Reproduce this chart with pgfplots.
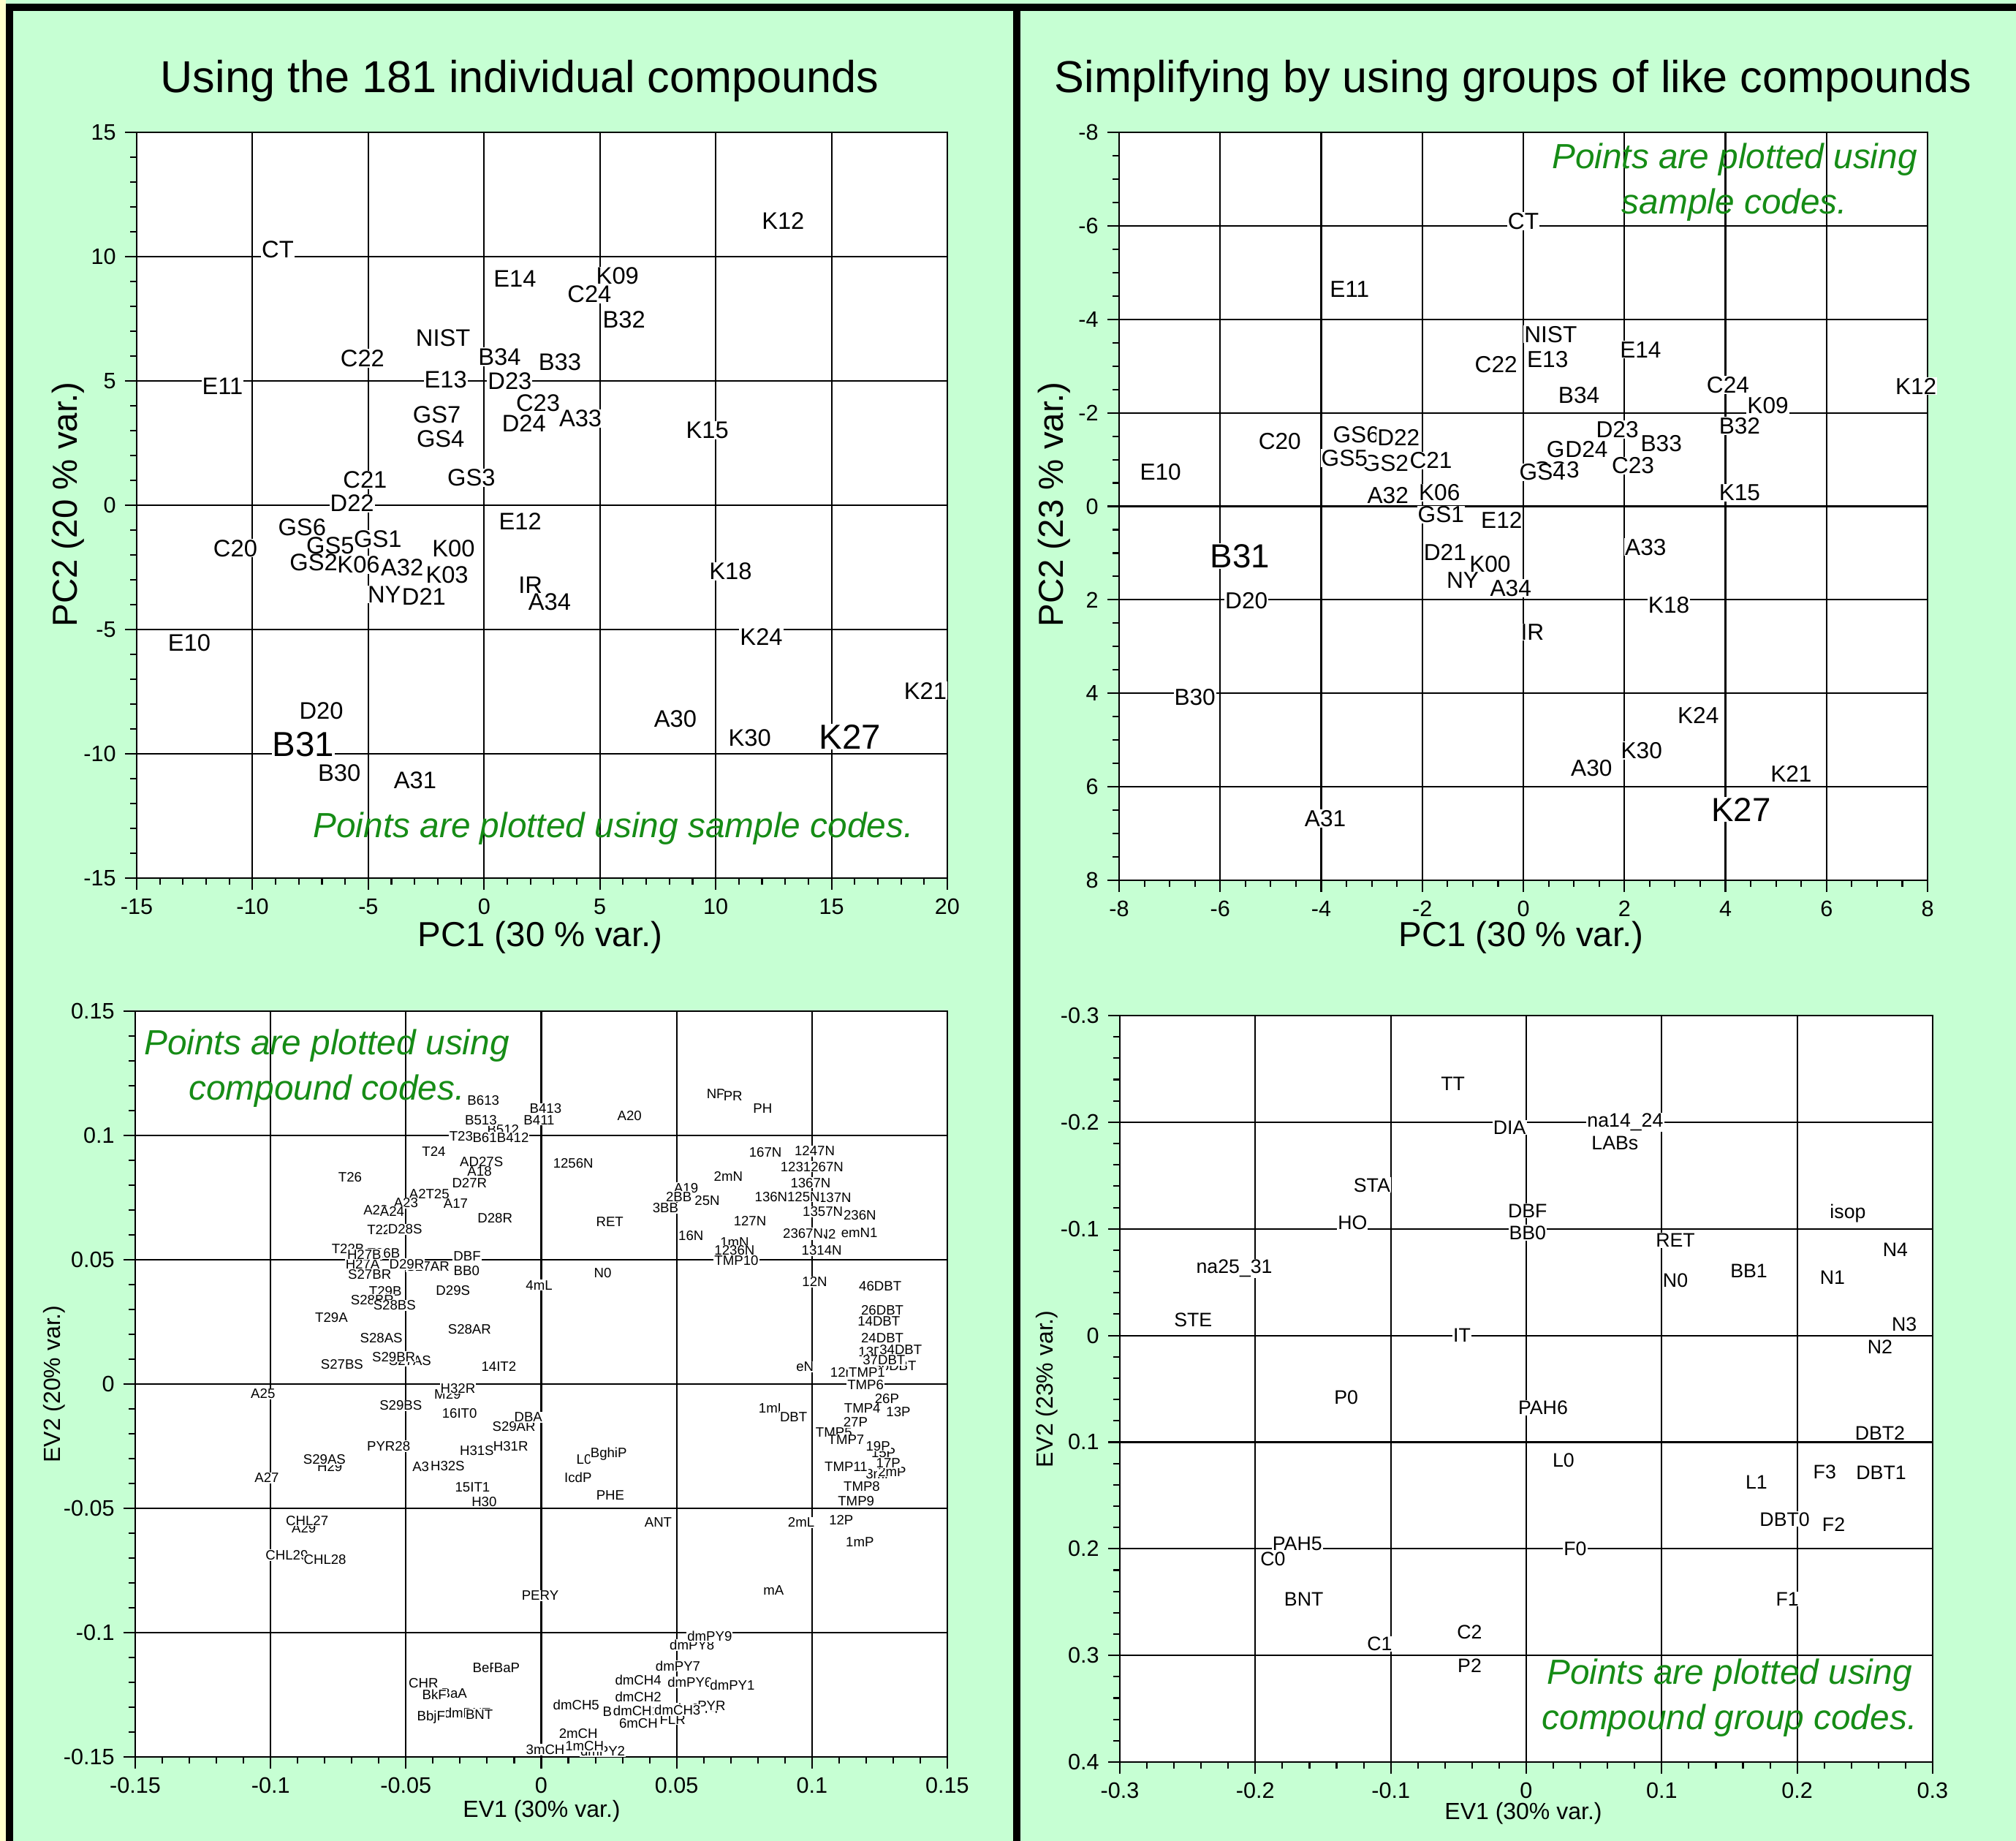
\documentclass[border=0pt]{standalone}
\usepackage{fontspec}
\setmainfont{Liberation Sans}
\usepackage{pgfplots}
\pgfplotsset{compat=1.18}
\definecolor{bgg}{RGB}{198,255,211}
\definecolor{ptgreen}{RGB}{22,140,22}
\definecolor{paley}{RGB}{255,255,204}
\pgfplotsset{
  panel/.style={
    scale only axis,
    axis background/.style={fill=white},
    tick align=outside,
    tick pos=left,
    major tick length=1.6mm,
    minor tick length=0.9mm,
    grid=major,
    major grid style={black, line width=0.6pt},
    axis line style={black, line width=0.8pt},
    every tick/.style={black, line width=0.6pt},
    tick label style={font=\fontsize{8.7}{10}\selectfont},
    /pgf/number format/assume math mode=true,
    scaled ticks=false,
    clip=false,
  },
  lab/.style={only marks, mark=none, point meta=explicit symbolic,
    nodes near coords, nodes near coords align=center,
    every node near coord/.append style={anchor=center, fill=white, text=black, inner sep=0.3pt, font=#1}},
  labx/.style={only marks, mark=none,
    nodes near coords, nodes near coords align=center,
    every node near coord/.append style={anchor=center, fill=white, text=black, inner sep=0.3pt, font=#1}},
}
\begin{document}
\begin{tikzpicture}
\useasboundingbox (0,0) rectangle (275.8mm,-251.8mm);
\fill[bgg] (0,0) rectangle (275.8mm,-251.8mm);
\fill[paley] (0,0) rectangle (0.8mm,-251.8mm);
\fill[black] (0.8mm,-0.5mm) rectangle (275.8mm,-1.5mm);
\fill[black] (0.8mm,-0.5mm) rectangle (1.8mm,-251.8mm);
\fill[black] (138.6mm,-0.5mm) rectangle (139.6mm,-251.8mm);

% ---------------- Top left
\begin{axis}[panel, at={(18.7mm,-120.1mm)}, anchor=south west,
  width=110.9mm, height=102mm,
  xmin=-15, xmax=20, ymin=-15, ymax=15,
  xtick={-15,-10,-5,0,5,10,15,20}, ytick={-15,-10,-5,0,5,10,15},
  minor tick num=4]
\addplot[lab={\fontsize{9.3}{10}\selectfont}] table[meta=label]{
x y label
-8.91 10.30 CT
12.91 11.44 K12
1.33 9.11 E14
4.55 8.50 C24
5.76 9.22 K09
6.04 7.46 B32
-1.77 6.74 NIST
-5.25 5.91 C22
0.67 5.97 B34
3.27 5.76 B33
-11.29 4.78 E11
-1.66 5.04 E13
1.11 4.98 D23
2.33 4.11 C23
-2.04 3.64 GS7
4.16 3.49 A33
1.72 3.28 D24
-1.88 2.66 GS4
9.64 3.02 K15
-0.55 1.11 GS3
-5.14 1.01 C21
-5.70 0.08 D22
1.56 -0.64 E12
-7.86 -0.90 GS6
-6.64 -1.62 GS5
-4.59 -1.37 GS1
-1.32 -1.73 K00
-10.74 -1.73 C20
-7.36 -2.30 GS2
-5.42 -2.40 K06
-3.54 -2.50 A32
-1.60 -2.81 K03
10.64 -2.66 K18
2.00 -3.22 IR
2.83 -3.90 A34
-4.31 -3.59 NY
-2.60 -3.69 D21
-12.73 -5.55 E10
11.97 -5.29 K24
19.05 -7.46 K21
-7.03 -8.28 D20
8.26 -8.59 A30
11.47 -9.37 K30
-6.25 -10.76 B30
-2.98 -11.07 A31
};
\addplot[lab={\fontsize{13.5}{15}\selectfont}] table[meta=label]{
x y label
-7.80 -9.63 B31
15.79 -9.32 K27
};
\end{axis}

% ---------------- Top right
\begin{axis}[panel, at={(153.1mm,-120.4mm)}, anchor=south west,
  width=110.6mm, height=102.3mm,
  xmin=-8, xmax=8, ymin=-8, ymax=8, y dir=reverse,
  xtick={-8,-6,-4,-2,0,2,4,6,8}, ytick={-8,-6,-4,-2,0,2,4,6,8},
  minor tick num=3]
\addplot[lab={\fontsize{9}{10}\selectfont}] table[meta=label]{
x y label
0.00 -6.10 CT
-3.44 -4.64 E11
0.54 -3.68 NIST
0.48 -3.15 E13
-0.54 -3.04 C22
2.32 -3.35 E14
4.05 -2.60 C24
7.77 -2.57 K12
4.84 -2.16 K09
1.10 -2.38 B34
4.28 -1.72 B32
1.86 -1.64 D23
2.73 -1.34 B33
-3.31 -1.53 GS6
-2.47 -1.47 D22
-4.82 -1.39 C20
0.92 -1.22 GS7
1.25 -1.22 D24
-2.73 -0.92 GS2
-3.54 -1.03 GS5
-1.83 -0.98 C21
0.65 -0.78 GS3
0.38 -0.73 GS4
2.17 -0.87 C23
-7.18 -0.73 E10
4.28 -0.29 K15
-2.68 -0.23 A32
-1.66 -0.29 K06
-1.63 0.18 GS1
-0.43 0.29 E12
2.42 0.87 A33
-1.55 0.98 D21
-0.66 1.23 K00
-1.20 1.58 NY
-0.25 1.75 A34
2.88 2.11 K18
-5.48 2.02 D20
0.18 2.69 IR
-6.50 4.09 B30
3.46 4.48 K24
2.34 5.22 K30
1.35 5.60 A30
5.30 5.72 K21
-3.92 6.68 A31
};
\addplot[lab={\fontsize{13}{15}\selectfont}] table[meta=label]{
x y label
-5.61 1.06 B31
4.31 6.49 K27
};
\end{axis}

% ---------------- Bottom left
\begin{axis}[panel, at={(18.5mm,-240.3mm)}, anchor=south west,
  width=111.1mm, height=102mm,
  xmin=-0.15, xmax=0.15, ymin=-0.15, ymax=0.15,
  xtick={-0.15,-0.1,-0.05,0,0.05,0.1,0.15}, ytick={-0.15,-0.1,-0.05,0,0.05,0.1,0.15},
  xticklabel style={/pgf/number format/fixed, /pgf/number format/precision=2},
  yticklabel style={/pgf/number format/fixed, /pgf/number format/precision=2},
  minor tick num=4]
\addplot[lab={\fontsize{5.3}{6}\selectfont}] table[meta=label]{
x y label
-0.0141 0.1023 B512
-0.0195 0.0991 B612
-0.0256 0.0895 A16
0.0535 0.0789 A19
-0.0443 0.0764 A21
-0.0612 0.0701 A22
-0.0600 0.0622 T22
-0.0714 0.0543 T22B
-0.0582 0.0526 T26B
-0.0660 0.0482 H27A
-0.0419 0.0472 S27AR
-0.0576 0.0374 T29B
-0.0624 0.0339 S28BR
-0.0485 0.0093 S27AS
-0.0346 -0.0041 M29
-0.0781 -0.0333 H29
-0.0431 -0.0333 A31
-0.0877 -0.0580 A29
0.0714 0.0571 1mN
0.1260 0.0296 26DBT
0.1021 0.0603 emN2
0.1250 0.0128 13DBT
0.1328 0.0138 34DBT
0.1307 0.0074 36DBT
0.1135 0.0046 12mN
0.1081 -0.0195 TMP5
0.1264 -0.0278 15P
0.1250 -0.0361 3mP
0.1296 -0.0352 2mP
0.0852 -0.0098 1mL
0.0557 -0.1049 dmPY8
-0.0322 -0.1246 BaA
-0.0273 -0.1324 dmBNT
0.0273 -0.1317 BbF
0.0572 -0.1305 dmPY4
0.0629 -0.1293 PYR
0.0485 -0.1349 FLR
0.0227 -0.1476 dmPY2
0.0958 0.0874 1237N
-0.0214 0.1141 B613
0.0016 0.1108 B413
-0.0223 0.1062 B513
-0.0008 0.1062 B411
0.0326 0.1079 A20
-0.0296 0.0997 T23
-0.0105 0.0991 B412
0.0646 0.1166 NP
0.0708 0.1158 PR
0.0818 0.1110 PH
-0.0397 0.0936 T24
-0.0204 0.0895 D27S
-0.0228 0.0855 A18
-0.0706 0.0833 T26
0.0118 0.0888 1256N
-0.0265 0.0809 D27R
0.0508 0.0754 2BB
0.0613 0.0739 25N
0.0459 0.0708 3BB
-0.0383 0.0764 T25
-0.0500 0.0728 A23
-0.0316 0.0725 A17
-0.0551 0.0693 A24
-0.0171 0.0668 D28R
0.0253 0.0654 RET
-0.0503 0.0622 D28S
0.0553 0.0598 16N
-0.0654 0.0521 H27B
-0.0497 0.0482 D29R
-0.0274 0.0513 DBF
-0.0276 0.0457 BB0
-0.0634 0.0442 S27BR
-0.0542 0.0317 S28BS
-0.0326 0.0377 D29S
-0.0008 0.0398 4mL
0.0227 0.0447 N0
-0.0775 0.0267 T29A
-0.0265 0.0221 S28AR
-0.0591 0.0184 S28AS
-0.0545 0.0110 S29BR
-0.0736 0.0079 S27BS
-0.0157 0.0071 14IT2
-0.1028 -0.0039 A25
-0.0308 -0.0017 H32R
-0.0519 -0.0087 S29BS
-0.0302 -0.0118 16IT0
-0.0101 -0.0172 S29AR
-0.0048 -0.0133 DBA
-0.0564 -0.0250 PYR28
-0.0238 -0.0267 H31S
-0.0113 -0.0250 H31R
-0.0801 -0.0304 S29AS
-0.0346 -0.0330 H32S
-0.1014 -0.0377 A27
0.0158 -0.0304 L0
0.0249 -0.0282 BghiP
0.0136 -0.0377 IcdP
-0.0254 -0.0415 15IT1
-0.0211 -0.0475 H30
0.0255 -0.0448 PHE
0.0432 -0.0556 ANT
-0.0865 -0.0549 CHL27
-0.0940 -0.0688 CHL29
-0.0799 -0.0706 CHL28
0.0828 0.0931 167N
0.1010 0.0938 1247N
0.1042 0.0874 1267N
0.0691 0.0834 2mN
0.0995 0.0810 1367N
0.0849 0.0754 136N
0.1085 0.0749 137N
0.0969 0.0754 125N
0.1040 0.0693 1357N
0.1177 0.0680 236N
0.0771 0.0655 127N
0.0967 0.0606 2367N
0.1175 0.0608 emN1
0.0714 0.0537 1236N
0.0721 0.0498 TMP10
0.1036 0.0537 1314N
0.1010 0.0411 12N
0.1252 0.0394 46DBT
0.1247 0.0253 14DBT
0.1260 0.0184 24DBT
0.1266 0.0096 37DBT
0.0974 0.0069 eN
0.1203 0.0046 TMP1
0.1198 -0.0003 TMP6
0.1277 -0.0059 26P
0.1186 -0.0098 TMP4
0.1319 -0.0112 13P
0.0932 -0.0132 DBT
0.1161 -0.0154 27P
0.1126 -0.0225 TMP7
0.1244 -0.0249 19P
0.1282 -0.0317 17P
0.1126 -0.0332 TMP11
0.1184 -0.0413 TMP8
0.1163 -0.0472 TMP9
0.0960 -0.0557 2mL
0.1108 -0.0547 12P
0.1177 -0.0635 1mP
0.0858 -0.0831 mA
-0.0004 -0.0851 PERY
0.0622 -0.1014 dmPY9
0.0505 -0.1134 dmPY7
-0.0206 -0.1142 BeP
-0.0127 -0.1142 BaP
-0.0435 -0.1202 CHR
0.0358 -0.1190 dmCH4
0.0549 -0.1199 dmPY6
0.0706 -0.1212 dmPY1
-0.0395 -0.1248 BkF
0.0358 -0.1258 dmCH2
0.0129 -0.1290 dmCH5
-0.0407 -0.1339 BbjF
-0.0229 -0.1329 BNT
0.0351 -0.1314 dmCH1
0.0503 -0.1312 dmCH3
0.0359 -0.1365 6mCH
0.0137 -0.1407 2mCH
0.0015 -0.1471 3mCH
0.0160 -0.1456 1mCH
};
\end{axis}

% ---------------- Bottom right
\begin{axis}[panel, at={(153.2mm,-241.0mm)}, anchor=south west,
  width=111.2mm, height=102.1mm,
  xmin=-0.3, xmax=0.3, ymin=-0.3, ymax=0.4, y dir=reverse,
  xtick={-0.3,-0.2,-0.1,0,0.1,0.2,0.3}, ytick={-0.3,-0.2,-0.1,0,0.1,0.2,0.3,0.4},
  xticklabel style={/pgf/number format/fixed, /pgf/number format/precision=1},
  yticklabel style={/pgf/number format/fixed, /pgf/number format/precision=1},
  minor tick num=4]
\addplot[lab={\fontsize{7.6}{9}\selectfont}] table[meta=label]{
x y label
-0.0541 -0.2361 TT
-0.0123 -0.1952 DIA
0.0655 -0.1807 LABs
-0.1139 -0.1410 STA
0.0010 -0.1169 DBF
-0.1282 -0.1060 HO
0.2374 -0.1145 isop
0.0010 -0.0964 BB0
0.1101 -0.0892 RET
0.2725 -0.0807 N4
0.1101 -0.0518 N0
0.1643 -0.0602 BB1
0.2260 -0.0542 N1
-0.2459 -0.0145 STE
0.2791 -0.0108 N3
-0.0475 0.0000 IT
0.2611 0.0108 N2
-0.1329 0.0578 P0
0.0124 0.0675 PAH6
0.2611 0.0916 DBT2
0.0275 0.1169 L0
0.2203 0.1277 F3
0.2620 0.1289 DBT1
0.1699 0.1373 L1
0.1908 0.1723 DBT0
0.2269 0.1771 F2
-0.1870 0.2096 C0
-0.1690 0.1952 PAH5
0.0361 0.2000 F0
-0.1642 0.2470 BNT
0.1927 0.2470 F1
-0.0418 0.2783 C2
-0.1082 0.2892 C1
-0.0418 0.3096 P2
};
\addplot[labx={\fontsize{7.6}{9}\selectfont}, nodes near coords={na14\_24}] coordinates {(0.0731,-0.2000)};
\addplot[labx={\fontsize{7.6}{9}\selectfont}, nodes near coords={na25\_31}] coordinates {(-0.2155,-0.0627)};
\end{axis}

% ---------------- Texts
\node[font=\fontsize{17.4}{20}\selectfont] at (71.1mm,-11.1mm) {Using the 181 individual compounds};
\node[font=\fontsize{17.4}{20}\selectfont] at (207.0mm,-11.1mm) {Simplifying by using groups of like compounds};

\node[font=\fontsize{13.5}{15}\selectfont, rotate=90] at (9.3mm,-69.0mm) {PC2 (20 \% var.)};
\node[font=\fontsize{13.5}{15}\selectfont] at (73.9mm,-128.2mm) {PC1 (30 \% var.)};
\node[font=\fontsize{13.5}{15}\selectfont, rotate=90] at (144.2mm,-69.0mm) {PC2 (23 \% var.)};
\node[font=\fontsize{13.5}{15}\selectfont] at (208.1mm,-128.2mm) {PC1 (30 \% var.)};
\node[font=\fontsize{9.1}{10}\selectfont, rotate=90] at (7.4mm,-189.3mm) {EV2 (20\% var.)};
\node[font=\fontsize{9.1}{10}\selectfont] at (74.1mm,-247.7mm) {EV1 (30\% var.)};
\node[font=\fontsize{9.1}{10}\selectfont, rotate=90] at (143.2mm,-190.0mm) {EV2 (23\% var.)};
\node[font=\fontsize{9.1}{10}\selectfont] at (208.4mm,-248.0mm) {EV1 (30\% var.)};

\node[font=\itshape\fontsize{13.6}{17.5}\selectfont, text=ptgreen] at (83.9mm,-113.3mm) {Points are plotted using sample codes.};
\node[font=\itshape\fontsize{13.6}{17.5}\selectfont, text=ptgreen, align=center] at (237.3mm,-24.9mm) {Points are plotted using\\sample codes.};
\node[font=\itshape\fontsize{13.6}{17.5}\selectfont, text=ptgreen, align=center] at (44.7mm,-146.1mm) {Points are plotted using\\compound codes.};
\node[font=\itshape\fontsize{13.6}{17.5}\selectfont, text=ptgreen, align=center] at (236.6mm,-232.2mm) {Points are plotted using\\compound group codes.};
\end{tikzpicture}
\end{document}
